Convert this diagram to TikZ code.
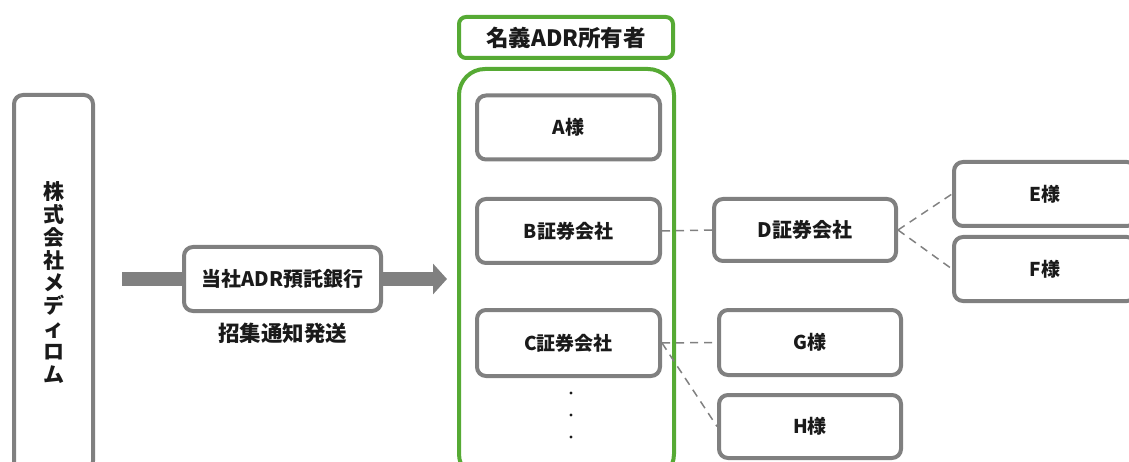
\documentclass[tikz,border=0pt]{standalone}
\usepackage{fontspec}
\setmainfont{Noto Sans CJK JP}
\usepackage{xcolor}
\usetikzlibrary{arrows.meta,positioning,backgrounds}
\definecolor{boxgray}{RGB}{128,128,128}
\definecolor{ownergreen}{RGB}{86,170,52}
\definecolor{textblack}{RGB}{26,26,26}

\begin{document}
\begin{tikzpicture}[
    x=1pt, y=-1pt,
    every node/.style={font=\fontsize{19}{23}\selectfont\bfseries, text=textblack},
    holder/.style={
        rectangle,
        rounded corners=9pt,
        draw=boxgray,
        line width=4pt,
        fill=white,
        minimum width=#1,
        minimum height=64pt,
        inner sep=0pt
    },
    holder/.default=183pt,
    owner/.style={
        rectangle,
        draw=ownergreen,
        line width=4pt,
        fill=white,
        inner sep=0pt,
        #1
    },
    link/.style={
        draw=boxgray,
        line width=1.5pt,
        dash pattern=on 8pt off 6pt
    },
    bigarrow/.style={
        draw=boxgray,
        line width=13pt,
        -{Triangle[length=14pt, width=30pt]}
    }
]
    \useasboundingbox (0,0) rectangle (1129,462);
    \clip (0,0) rectangle (1129,462);

    % Issuer (runs off the bottom edge)
    \node[holder, minimum width=79pt, minimum height=375pt, align=center,
          font=\fontsize{21}{22.9}\selectfont\bfseries] (medirom) at (53.5,282.5)
        {株\\式\\会\\社\\メ\\デ\\ィ\\ロ\\ム};

    % Depositary bank
    \node[holder=197pt, font=\fontsize{20}{24}\selectfont\bfseries]
        (bank) at (282.5,279) {当社ADR預託銀行};
    \node[below=7pt of bank, font=\fontsize{21.5}{26}\selectfont\bfseries]
        (notice) {招集通知発送};

    % Registered holders
    \node[owner={rounded corners=7pt, minimum width=214pt, minimum height=41pt},
          font=\fontsize{22.5}{26}\selectfont\bfseries]
        (title) at (566,37.5) {名義ADR所有者};
    \node[owner={rounded corners=26pt, minimum width=215pt, minimum height=411pt}]
        (frame) at (566.5,274.5) {};

    \node[holder] (A) at (568.5,127.5) {A様};
    \node[holder] (B) at (568.5,231) {B証券会社};
    \node[holder, minimum height=66pt] (C) at (568.5,343) {C証券会社};
    \foreach \y in {393,415,437}
        \fill[textblack] (571,\y) circle (1.6pt);

    % Beneficial owners
    \node[holder=182pt, minimum height=62pt, font=\fontsize{20}{24}\selectfont\bfseries]
        (D) at (805,230) {D証券会社};
    \node[holder=182pt] (E) at (1045,194) {E様};
    \node[holder=182pt] (F) at (1045,269) {F様};
    \node[holder=182pt, minimum height=65pt] (G) at (810,342.5) {G様};
    \node[holder=182pt, minimum height=63pt] (H) at (810,426.5) {H様};

    % Flow of the notice
    \begin{scope}[on background layer]
        \draw[bigarrow, shorten <=27pt, shorten >=10pt]
            (medirom.east |- bank.west) -- (frame.west |- bank.east);
    \end{scope}

    % Holdings
    \draw[link] (B.east) -- (D.west);
    \draw[link] (D.east) -- (E.west);
    \draw[link] (D.east) -- (F.west);
    \draw[link] (C.east) -- (G.west);
    \draw[link] (C.east) -- (H.west);

\end{tikzpicture}
\end{document}
